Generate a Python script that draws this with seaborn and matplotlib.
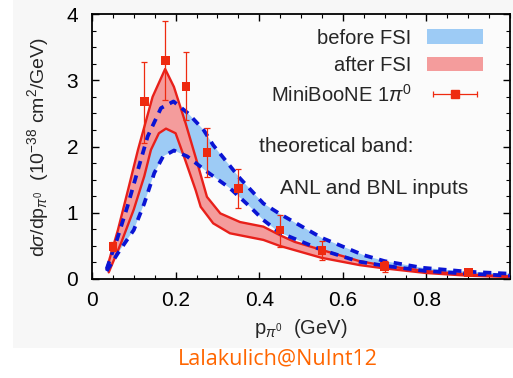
import numpy as np
import matplotlib
matplotlib.use("Agg")
import matplotlib.pyplot as plt
import seaborn as sns
from matplotlib.lines import Line2D
from matplotlib.patches import Patch, Rectangle
from matplotlib.legend_handler import HandlerLine2D

# ---- data ----
before_hi_x = [0.035, 0.06, 0.085, 0.11, 0.133, 0.165, 0.195, 0.23, 0.267, 0.29, 0.354, 0.41, 0.45, 0.55, 0.65, 0.70, 0.79, 0.90, 1.0]
before_hi_y = [0.15, 0.60, 1.10, 1.65, 2.15, 2.58, 2.68, 2.50, 2.25, 2.02, 1.52, 1.14, 0.98, 0.62, 0.36, 0.27, 0.17, 0.11, 0.08]
before_lo_x = [0.035, 0.062, 0.10, 0.125, 0.149, 0.17, 0.196, 0.228, 0.275, 0.33, 0.378, 0.41, 0.449, 0.549, 0.64, 0.70, 0.80, 0.90, 1.0]
before_lo_y = [0.12, 0.39, 0.74, 1.14, 1.60, 1.85, 1.94, 1.85, 1.62, 1.37, 1.09, 0.89, 0.70, 0.44, 0.26, 0.20, 0.12, 0.08, 0.05]

after_hi_x = [0.035, 0.062, 0.086, 0.11, 0.145, 0.175, 0.196, 0.224, 0.252, 0.275, 0.307, 0.354, 0.41, 0.45, 0.485, 0.549, 0.64, 0.70, 0.80, 0.90, 1.0]
after_hi_y = [0.15, 0.74, 1.34, 1.95, 2.75, 3.17, 2.90, 2.35, 1.75, 1.24, 0.99, 0.86, 0.79, 0.66, 0.56, 0.44, 0.27, 0.20, 0.12, 0.07, 0.04]
after_lo_x = [0.04, 0.07, 0.10, 0.125, 0.141, 0.16, 0.177, 0.20, 0.22, 0.248, 0.26, 0.29, 0.33, 0.41, 0.449, 0.549, 0.64, 0.70, 0.80, 0.90, 1.0]
after_lo_y = [0.10, 0.55, 1.05, 1.55, 1.95, 2.20, 2.27, 2.20, 1.85, 1.34, 1.09, 0.84, 0.69, 0.59, 0.50, 0.32, 0.21, 0.16, 0.09, 0.05, 0.03]

mb_x = [0.05, 0.125, 0.175, 0.225, 0.275, 0.35, 0.45, 0.55, 0.70, 0.90]
mb_y = [0.49, 2.68, 3.30, 2.90, 1.91, 1.37, 0.74, 0.43, 0.19, 0.095]
mb_lo = [0.42, 2.05, 2.70, 2.40, 1.54, 1.07, 0.49, 0.28, 0.11, 0.065]
mb_hi = [0.56, 3.28, 3.90, 3.43, 2.28, 1.66, 0.97, 0.58, 0.27, 0.125]

labels = ["before FSI", "after FSI", "MiniBooNE 1$\\pi^0$"]
note_lines = ["theoretical band:", "ANL and BNL inputs"]
x_ticks = [0, 0.2, 0.4, 0.6, 0.8]
x_ticklabels = ["0", "0.2", "0.4", "0.6", "0.8"]
y_ticks = [0, 1, 2, 3, 4]

# ---- style ----
sns.set_style("ticks")
plt.rcParams['font.family'] = ['Liberation Sans', 'DejaVu Sans']
plt.rcParams['mathtext.fontset'] = 'custom'
plt.rcParams['mathtext.rm'] = 'Liberation Sans'
plt.rcParams['mathtext.it'] = 'Liberation Sans:italic'

BLUE_FILL = '#9dcbf5'
RED_FILL = '#f49c9c'
RED_LINE = '#e8201a'
BLUE_LINE = '#0a14d4'
PT_COLOR = '#ee2a10'

fig = plt.figure(figsize=(5.13, 3.78), dpi=100, facecolor='white')
fig.patches.append(Rectangle((13/513, 30/378), 500/513, 348/378, transform=fig.transFigure,
                             facecolor='#f7f7f7', edgecolor='none', zorder=-10))
ax = fig.add_axes([92/513, (378-279)/378, 418/513, 265/378])
ax.set_facecolor('#fbfbfb')

# bands
ax.fill(np.concatenate([before_hi_x, before_lo_x[::-1]]),
        np.concatenate([before_hi_y, before_lo_y[::-1]]),
        color=BLUE_FILL, lw=0, zorder=1)
ax.fill(np.concatenate([after_hi_x, after_lo_x[::-1]]),
        np.concatenate([after_hi_y, after_lo_y[::-1]]),
        color=RED_FILL, lw=0, zorder=2)

sns.lineplot(x=after_hi_x, y=after_hi_y, ax=ax, color=RED_LINE, lw=1.7, sort=False, estimator=None, zorder=3)
sns.lineplot(x=after_lo_x, y=after_lo_y, ax=ax, color=RED_LINE, lw=1.7, sort=False, estimator=None, zorder=3)
for xs, ys in [(before_hi_x, before_hi_y), (before_lo_x, before_lo_y)]:
    l = sns.lineplot(x=xs, y=ys, ax=ax, color=BLUE_LINE, lw=2.7, sort=False, estimator=None, zorder=4)
    l.lines[-1].set_dashes((2.2, 1.8))

# data points
yerr = [np.array(mb_y) - np.array(mb_lo), np.array(mb_hi) - np.array(mb_y)]
ax.errorbar(mb_x, mb_y, yerr=yerr, fmt='none', ecolor=PT_COLOR, elinewidth=0.9,
            capsize=2.5, capthick=0.9, zorder=5)
sns.scatterplot(x=mb_x, y=mb_y, ax=ax, marker='s', s=40, color=PT_COLOR, edgecolor='none', zorder=6)

# axes
ax.set_xlim(0, 1.0)
ax.set_ylim(0, 4)
ax.set_xticks(x_ticks)
ax.set_xticklabels(x_ticklabels)
ax.set_yticks(y_ticks)
ax.xaxis.set_minor_locator(matplotlib.ticker.MultipleLocator(0.05))
ax.yaxis.set_minor_locator(matplotlib.ticker.MultipleLocator(0.25))
ax.tick_params(which='both', direction='in', top=True, right=True, colors='black', labelsize=15)
ax.tick_params(which='major', length=5, width=1.0)
ax.tick_params(which='minor', length=3, width=0.8)
ax.tick_params(axis='x', pad=9)
ax.tick_params(axis='y', pad=10)
for s in ax.spines.values():
    s.set_visible(True)
    s.set_color('black')
    s.set_linewidth(1.3)

ax.set_xlabel("p$_{\\pi^0}$  (GeV)", fontsize=14.5, labelpad=5)
ax.set_ylabel("d$\\sigma$/dp$_{\\pi^0}$  (10$^{-38}$ cm$^2$/GeV)", fontsize=14, labelpad=11)

# legend
h_before = Patch(facecolor=BLUE_FILL, edgecolor='none')
h_after = Patch(facecolor=RED_FILL, edgecolor='none')
h_line = Line2D([], [], color=PT_COLOR, lw=0.9, marker='|', markersize=5, markeredgewidth=0.9)
h_sq = Line2D([], [], color=PT_COLOR, lw=0, marker='s', markersize=6)
leg = ax.legend([h_before, h_after, (h_line, h_sq)], labels,
                handler_map={h_line: HandlerLine2D(numpoints=2), h_sq: HandlerLine2D(numpoints=1)},
                loc='upper right', bbox_to_anchor=(0.955, 0.975), markerfirst=False, frameon=False,
                fontsize=14.5, handlelength=2.8, handleheight=0.75, labelspacing=0.42,
                handletextpad=0.75, borderaxespad=0.0)

ax.text(0.40, 2.0, note_lines[0], fontsize=15, ha='left', va='center', zorder=7)
ax.text(0.45, 1.37, note_lines[1], fontsize=15, ha='left', va='center', zorder=7)

fig.text(278/513, 1 - 359/378, "Lalakulich@NuInt12", color='#ff6600', fontsize=15.5,
         family=['Open Sans', 'DejaVu Sans'], ha='center', va='center')

fig.savefig("out.png", dpi=100, facecolor=fig.get_facecolor())
